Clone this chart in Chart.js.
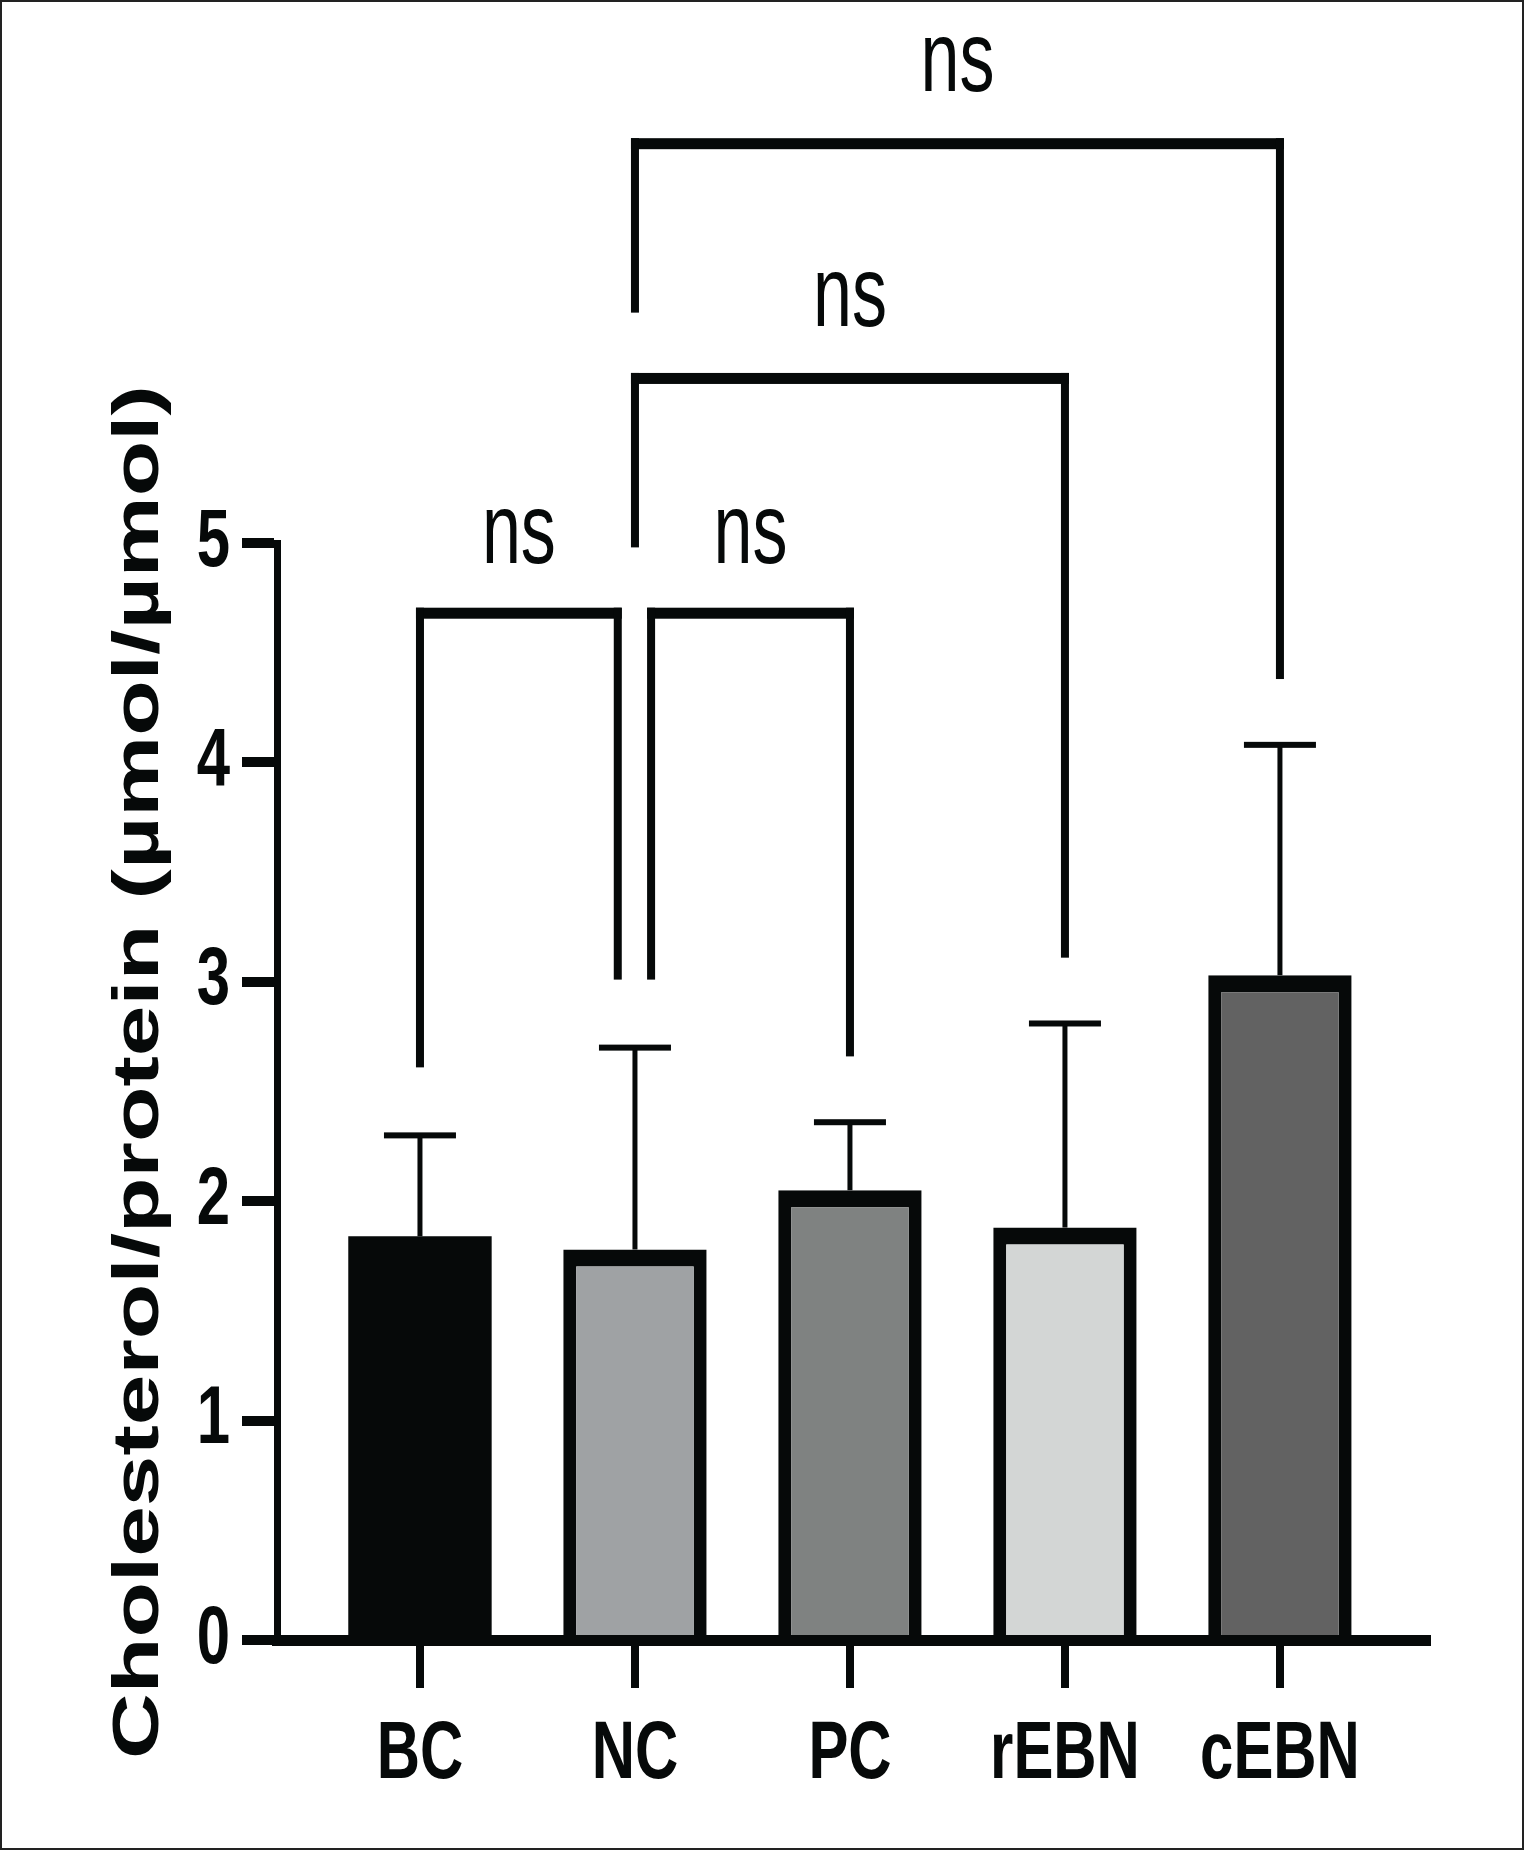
<!DOCTYPE html>
<html>
<head>
<meta charset="utf-8">
<script src="https://cdn.jsdelivr.net/npm/chart.js@4.4.1/dist/chart.umd.min.js"></script>
<style>
  html, body { margin: 0; padding: 0; background: #ffffff; overflow: hidden; }
  #wrap { width: 1524px; height: 1850px; position: relative; }
</style>
</head>
<body>
<div id="wrap"><canvas id="c"></canvas></div>
<script>
// ---- data ----
const categories = ['BC', 'NC', 'PC', 'rEBN', 'cEBN'];
const means = [1.84, 1.78, 2.05, 1.88, 3.03];
const sds = [0.46, 0.92, 0.31, 0.93, 1.05];
const barColors = ['#060909', '#9fa2a4', '#7f8281', '#d3d6d5', '#626262'];
const yTicks = [0, 1, 2, 3, 4, 5];
const yTitle = 'Cholesterol/protein (µmol/µmol)';

// significance brackets (x in category units, y in data units)
const sigLabels = ['ns', 'ns', 'ns', 'ns'];
const sigLeft = [0, 1.075, 1, 1];
const sigRight = [0.92, 2, 3, 4];
const sigLevel = [4.68, 4.68, 5.75, 6.82];
const sigLeftEnd = [2.61, 3.01, 4.98, 6.05];
const sigRightEnd = [3.01, 2.66, 3.11, 4.38];
const sigLabelY = [4.91, 4.91, 5.99, 7.06];

const ink = '#060909';
const tickFont = { family: '"Liberation Sans", Arial, sans-serif', weight: 'bold', size: 82, lineHeight: 1.2 };
const TICK_SQUEEZE = 0.73;
const outline = { top: 17, left: 13, right: 13, bottom: 0 };
const nativeFillText = CanvasRenderingContext2D.prototype.fillText;

function squeezedText(ctx, text, x, y, sx, sy) {
  ctx.save();
  ctx.translate(x, y);
  ctx.scale(sx, sy);
  nativeFillText.call(ctx, text, 0, 0);
  ctx.restore();
}

const overlay = {
  id: 'overlay',
  beforeDraw(chart) {
    // the figure's lettering is condensed: draw the axis tick labels narrower
    chart.ctx.fillText = function (text, x, y) {
      squeezedText(this, text, x, y, TICK_SQUEEZE, 1);
    };
  },
  afterDatasetsDraw(chart) {
    const { ctx, scales: { x, y } } = chart;
    ctx.save();
    ctx.fillStyle = ink;
    means.forEach((m, i) => {
      const cx = x.getPixelForValue(i);
      const yb = y.getPixelForValue(m);
      const yt = y.getPixelForValue(m + sds[i]);
      ctx.fillRect(cx - 2.5, yt, 5, yb - yt);
      ctx.fillRect(cx - 36, yt - 3, 72, 6);
    });
    ctx.restore();
  },
  afterDraw(chart) {
    const { ctx, scales: { x, y } } = chart;
    delete ctx.fillText;
    ctx.save();
    ctx.fillStyle = ink;
    sigLabels.forEach((lab, k) => {
      const xl = x.getPixelForValue(sigLeft[k]);
      const xr = x.getPixelForValue(sigRight[k]);
      const yl = y.getPixelForValue(sigLevel[k]);
      const yLe = y.getPixelForValue(sigLeftEnd[k]);
      const yRe = y.getPixelForValue(sigRightEnd[k]);
      ctx.fillRect(xl - 4, yl - 5.5, xr - xl + 8, 11);
      ctx.fillRect(xl - 4, yl - 5.5, 8, yLe - (yl - 5.5));
      ctx.fillRect(xr - 4, yl - 5.5, 8, yRe - (yl - 5.5));
      ctx.font = '100px "Liberation Sans", Arial, sans-serif';
      ctx.textAlign = 'center';
      ctx.textBaseline = 'alphabetic';
      squeezedText(ctx, lab, (xl + xr) / 2, y.getPixelForValue(sigLabelY[k]), 0.7, 1);
    });
    // rotated y-axis title
    ctx.save();
    ctx.translate(158, 1072);
    ctx.rotate(-Math.PI / 2);
    ctx.font = 'bold 91px "Liberation Sans", Arial, sans-serif';
    ctx.textAlign = 'center';
    ctx.textBaseline = 'alphabetic';
    squeezedText(ctx, yTitle, 0, 0, 1, 0.72);
    ctx.restore();
    // thin frame
    ctx.strokeStyle = '#222222';
    ctx.lineWidth = 2;
    ctx.strokeRect(1, 1, chart.width - 2, chart.height - 2);
    ctx.restore();
  }
};

new Chart(document.getElementById('c'), {
  type: 'bar',
  data: {
    datasets: [{
      data: categories.map((c, i) => ({ x: i, y: means[i] })),
      backgroundColor: barColors,
      borderColor: ink,
      borderWidth: ctx => (ctx.dataIndex === 0 ? 0 : outline),
      borderSkipped: 'start',
      barPercentage: 0.667,
      categoryPercentage: 1
    }]
  },
  options: {
    responsive: true,
    maintainAspectRatio: false,
    animation: false,
    layout: { padding: { left: 193, top: 543, right: 97, bottom: 55 } },
    plugins: { legend: { display: false }, tooltip: { enabled: false }, title: { display: false } },
    scales: {
      x: {
        type: 'linear',
        min: -0.665,
        max: 4.684,
        offset: false,
        afterBuildTicks: s => { s.ticks = categories.map((c, i) => ({ value: i })); },
        afterFit: s => { s.height = 155; },
        border: { display: true, color: ink, width: 11 },
        grid: { display: true, offset: false, drawOnChartArea: false, drawTicks: true, tickLength: 48, lineWidth: 8, color: ink },
        ticks: { padding: 18, color: ink, font: tickFont, autoSkip: false, maxRotation: 0, callback: v => categories[v] }
      },
      y: {
        min: 0,
        max: 5,
        afterBuildTicks: s => { s.ticks = yTicks.map(v => ({ value: v })); },
        afterFit: s => { s.width = 84; },
        border: { display: true, color: ink, width: 7 },
        grid: { display: true, drawOnChartArea: false, drawTicks: true, tickLength: 35, lineWidth: 10, color: ink },
        ticks: { padding: 12, color: ink, font: tickFont }
      }
    }
  },
  plugins: [overlay]
});
</script>
</body>
</html>
